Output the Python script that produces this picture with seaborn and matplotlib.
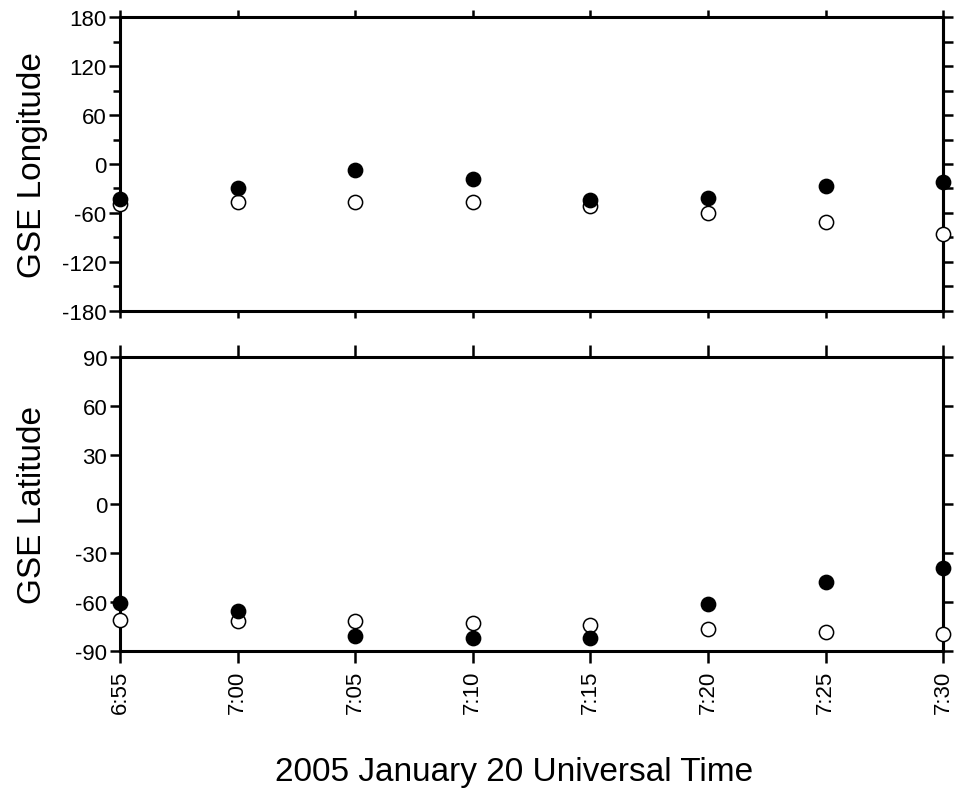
import matplotlib
matplotlib.use("Agg")
import matplotlib.pyplot as plt
import seaborn as sns
import pandas as pd
from matplotlib.ticker import MultipleLocator

# ---- data ----
times = ["6:55", "7:00", "7:05", "7:10", "7:15", "7:20", "7:25", "7:30"]
lon_filled = [-43, -30, -7, -18, -44, -42, -26.5, -21.5]
lon_open = [-48.5, -46, -46, -46.5, -52, -60.5, -71, -86]
lat_filled = [-60.5, -65.5, -81, -82, -82, -61.5, -48, -39.5]
lat_open = [-71, -71.5, -72, -73, -74.5, -76.5, -78.5, -80]

lon_ticks = [-180, -120, -60, 0, 60, 120, 180]
lat_ticks = [-90, -60, -30, 0, 30, 60, 90]

def to_min(t):
    h, m = t.split(":")
    return int(h) * 60 + int(m)

minutes = [to_min(t) - to_min(times[0]) for t in times]

df_lon = pd.DataFrame({"t": minutes * 2,
                       "v": lon_open + lon_filled,
                       "kind": ["open"] * len(times) + ["filled"] * len(times)})
df_lat = pd.DataFrame({"t": minutes * 2,
                       "v": lat_open + lat_filled,
                       "kind": ["open"] * len(times) + ["filled"] * len(times)})

sns.set_style("ticks")
plt.rcParams["font.family"] = ["Liberation Sans", "DejaVu Sans"]
plt.rcParams["axes.unicode_minus"] = False
for k in ["text.color", "axes.labelcolor", "xtick.color", "ytick.color",
          "xtick.labelcolor", "ytick.labelcolor"]:
    plt.rcParams[k] = "black"

fig = plt.figure(figsize=(9.65, 8.03), dpi=100)
ax1 = fig.add_axes([0.1244, 0.6118, 0.8531, 0.3654])
ax2 = fig.add_axes([0.1244, 0.1884, 0.8531, 0.3654])

SPINE_W = 2.2
TICK_W = 1.8

def draw(ax, df):
    for kind, face in [("open", "white"), ("filled", "black")]:
        sub = df[df["kind"] == kind]
        sns.scatterplot(data=sub, x="t", y="v", ax=ax, color=face,
                        edgecolor="black", linewidth=1.1, s=105,
                        clip_on=False, zorder=5 if kind == "open" else 6,
                        legend=False)
    ax.set_xlim(minutes[0], minutes[-1])
    ax.set_xticks(minutes)
    for sp in ax.spines.values():
        sp.set_visible(True)
        sp.set_linewidth(SPINE_W)
        sp.set_color("black")
        sp.set_zorder(3)
    ax.set_xlabel("")

draw(ax1, df_lon)
draw(ax2, df_lat)

# top panel
ax1.set_ylim(-180, 180)
ax1.set_yticks(lon_ticks)
ax1.yaxis.set_minor_locator(MultipleLocator(30))
ax1.set_xticklabels([])
ax1.tick_params(axis="x", which="major", top=True, bottom=True, direction="out",
                length=5.0, width=TICK_W, color="black")
ax1.tick_params(axis="y", which="major", left=True, right=False, direction="out",
                length=8.0, width=TICK_W, labelsize=16, pad=2, color="black")
ax1.tick_params(axis="y", which="minor", left=True, right=False, direction="out",
                length=4.8, width=TICK_W, color="black")
ax1.set_ylabel("GSE Longitude", fontsize=24)
ax1.yaxis.set_label_coords(-0.0875, 0.5)
sec1 = ax1.secondary_yaxis("right")
sec1.set_yticks(list(range(-180, 181, 30)))
sec1.set_yticklabels([])
sec1.tick_params(length=7.2, width=TICK_W, direction="out", color="black")
sec1.spines["right"].set_linewidth(SPINE_W)

# bottom panel
ax2.set_ylim(-90, 90)
ax2.set_yticks(lat_ticks)
ax2.set_xticklabels(times, rotation=90, fontsize=16)
ax2.tick_params(axis="x", which="major", top=True, bottom=True, direction="out",
                length=8.6, width=TICK_W, pad=5, color="black")
ax2.tick_params(axis="y", which="major", left=True, right=False, direction="out",
                length=7.2, width=TICK_W, labelsize=16, pad=2, color="black")
ax2.set_ylabel("GSE Latitude", fontsize=24)
ax2.yaxis.set_label_coords(-0.0875, 0.5)
sec2 = ax2.secondary_yaxis("right")
sec2.set_yticks(lat_ticks)
sec2.set_yticklabels([])
sec2.tick_params(length=7.2, width=TICK_W, direction="out", color="black")
sec2.spines["right"].set_linewidth(SPINE_W)

fig.text(514 / 965, 1 - 773 / 803, "2005 January 20 Universal Time",
         fontsize=24, ha="center", va="center")

fig.savefig("out.png", dpi=100, facecolor="white")
